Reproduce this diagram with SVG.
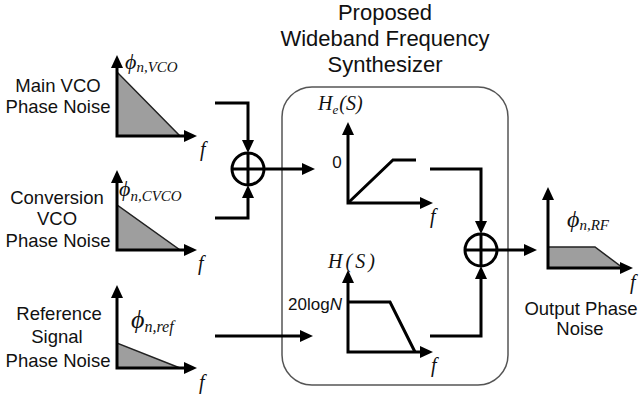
<svg xmlns="http://www.w3.org/2000/svg" width="639" height="394" viewBox="0 0 639 394">
<style>
.ax{fill:none;stroke:#000;stroke-width:3;stroke-linejoin:miter}
.ln{fill:none;stroke:#000;stroke-width:3}
.nz{fill:#9e9e9e;stroke:#222;stroke-width:1.5}
.lbl{font-family:"Liberation Sans",Arial,sans-serif;font-size:18.5px;fill:#111;text-anchor:middle}
.ttl{font-family:"Liberation Sans",Arial,sans-serif;font-size:22px;fill:#111;text-anchor:middle}
.it{font-family:"Liberation Serif","Times New Roman",serif;font-style:italic;fill:#111}
.sm{font-family:"Liberation Sans",Arial,sans-serif;font-size:17px;fill:#111}
.sum{fill:#fff;stroke:#000;stroke-width:3}
</style>
<defs>
<marker id="ah" markerUnits="userSpaceOnUse" markerWidth="13" markerHeight="12" refX="5" refY="6" orient="auto-start-reverse" overflow="visible">
<path d="M0,0 L13,6 L0,12 z" fill="#000"/>
</marker>
</defs>

<g id="title">
<text class="ttl" x="385" y="20">Proposed</text>
<text class="ttl" x="385" y="46">Wideband Frequency</text>
<text class="ttl" x="385" y="72">Synthesizer</text>
</g>

<g id="synth-box">
<rect x="282" y="87" width="226" height="298" rx="30" ry="30" fill="none" stroke="#555" stroke-width="1.5"/>
</g>

<g id="main-vco">
<text class="lbl" x="58" y="92">Main VCO</text>
<text class="lbl" x="58" y="113">Phase Noise</text>
<polygon class="nz" points="117,72 117,136 180,136"/>
<polyline class="ax" points="117,63 117,136 189,136" marker-start="url(#ah)" marker-end="url(#ah)"/>
<text class="it" x="125" y="69"><tspan font-size="22">ϕ</tspan><tspan font-size="15" dy="3">n,VCO</tspan></text>
<text class="it" x="200" y="156" font-size="20">f</text>
</g>

<g id="conv-vco">
<text class="lbl" x="57" y="204">Conversion</text>
<text class="lbl" x="57" y="225">VCO</text>
<text class="lbl" x="58" y="247">Phase Noise</text>
<polygon class="nz" points="117,205 117,250 180,250"/>
<polyline class="ax" points="117,178 117,250 189,250" marker-start="url(#ah)" marker-end="url(#ah)"/>
<text class="it" x="119" y="196"><tspan font-size="22">ϕ</tspan><tspan font-size="15" dy="5">n,CVCO</tspan></text>
<text class="it" x="198" y="270" font-size="20">f</text>
</g>

<g id="ref-signal">
<text class="lbl" x="59" y="320">Reference</text>
<text class="lbl" x="57" y="343">Signal</text>
<text class="lbl" x="58" y="367">Phase Noise</text>
<polygon class="nz" points="117,343 117,368 180,368"/>
<polyline class="ax" points="117,293 117,368 189,368" marker-start="url(#ah)" marker-end="url(#ah)"/>
<text class="it" x="131" y="328"><tspan font-size="26">ϕ</tspan><tspan font-size="16" dy="4">n,ref</tspan></text>
<text class="it" x="199" y="389" font-size="20">f</text>
</g>

<g id="sum1">
<circle class="sum" cx="248" cy="169" r="16"/>
<line class="ln" x1="232" y1="169" x2="264" y2="169"/>
<line class="ln" x1="248" y1="153" x2="248" y2="185"/>
</g>

<g id="he-plot">
<text class="it" x="318" y="110"><tspan font-size="20">H</tspan><tspan font-size="13" dy="4">e</tspan><tspan font-size="20" dy="-4" dx="1">(S)</tspan></text>
<polyline class="ax" points="348,130 348,203 425,203" marker-start="url(#ah)" marker-end="url(#ah)"/>
<polyline class="ln" points="348,203 393,160 416,160"/>
<text class="sm" x="337" y="168" text-anchor="middle">0</text>
<text class="it" x="430" y="223" font-size="20">f</text>
</g>

<g id="h-plot">
<text class="it" x="328" y="268" font-size="20" textLength="47" lengthAdjust="spacing">H(S)</text>
<polyline class="ax" points="348,278 348,352 425,352" marker-start="url(#ah)" marker-end="url(#ah)"/>
<polyline class="ln" points="348,302 390,302 415,352"/>
<text class="sm" x="342" y="310" text-anchor="end">20log<tspan font-style="italic">N</tspan></text>
<text class="it" x="431" y="372" font-size="20">f</text>
</g>

<g id="sum2">
<circle class="sum" cx="481" cy="250" r="16"/>
<line class="ln" x1="465" y1="250" x2="497" y2="250"/>
<line class="ln" x1="481" y1="234" x2="481" y2="266"/>
</g>

<g id="output">
<polygon class="nz" points="548,247 595,247 623,268 548,268"/>
<polyline class="ax" points="548,195 548,268 625,268" marker-start="url(#ah)" marker-end="url(#ah)"/>
<text class="it" x="567" y="227"><tspan font-size="24">ϕ</tspan><tspan font-size="15" dy="3">n,RF</tspan></text>
<text class="it" x="630" y="289" font-size="20">f</text>
<text class="lbl" x="581" y="315">Output Phase</text>
<text class="lbl" x="580" y="335">Noise</text>
</g>

<g id="connectors">
<polyline class="ln" points="215,103 248,103 248,145" marker-end="url(#ah)"/>
<polyline class="ln" points="215,218 248,218 248,193" marker-end="url(#ah)"/>
<line class="ln" x1="264" y1="169" x2="307" y2="169" marker-end="url(#ah)"/>
<line class="ln" x1="215" y1="336" x2="305" y2="336" marker-end="url(#ah)"/>
<polyline class="ln" points="430,169 481,169 481,226" marker-end="url(#ah)"/>
<polyline class="ln" points="430,336 481,336 481,274" marker-end="url(#ah)"/>
<line class="ln" x1="497" y1="250" x2="529" y2="250" marker-end="url(#ah)"/>
</g>
</svg>
